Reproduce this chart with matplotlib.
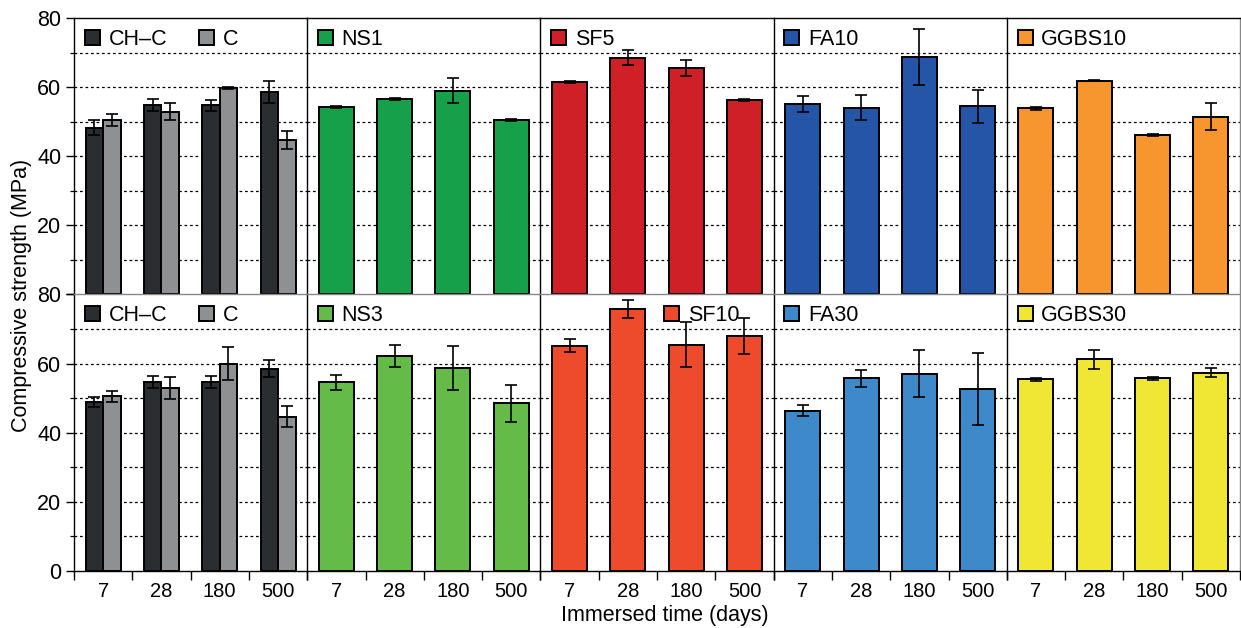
import matplotlib
matplotlib.use("Agg")
import matplotlib.pyplot as plt
from matplotlib.ticker import FixedLocator, NullFormatter
import numpy as np

plt.rcParams['font.family'] = ['Liberation Sans', 'DejaVu Sans']

days = ["7", "28", "180", "500"]

# control panels (both rows)
chc_top = [48.3, 54.8, 54.8, 58.6]
chc_top_err = [2.2, 1.7, 1.6, 3.3]
c_top = [50.5, 52.9, 59.8, 44.7]
c_top_err = [1.7, 2.5, 0.3, 2.6]
chc_bot = [48.9, 54.7, 54.7, 58.5]
chc_bot_err = [1.4, 1.7, 1.7, 2.5]
c_bot = [50.5, 52.9, 60.0, 44.7]
c_bot_err = [1.7, 3.2, 4.8, 2.9]

# top row mixes
ns1 = [54.2, 56.5, 59.0, 50.4]
ns1_err = [0.3, 0.3, 3.5, 0.3]
sf5 = [61.4, 68.5, 65.5, 56.3]
sf5_err = [0.3, 2.2, 2.4, 0.3]
fa10 = [55.2, 54.1, 68.7, 54.4]
fa10_err = [2.3, 3.6, 8.1, 4.7]
ggbs10 = [53.9, 61.9, 46.2, 51.4]
ggbs10_err = [0.4, 0.2, 0.3, 3.9]

# bottom row mixes
ns3 = [54.6, 62.2, 58.7, 48.5]
ns3_err = [2.2, 3.2, 6.4, 5.4]
sf10 = [65.2, 75.9, 65.5, 68.0]
sf10_err = [1.9, 2.65, 6.6, 5.1]
fa30 = [46.4, 55.7, 57.1, 52.7]
fa30_err = [1.5, 2.4, 6.7, 10.4]
ggbs30 = [55.5, 61.2, 55.7, 57.4]
ggbs30_err = [0.4, 2.65, 0.4, 1.35]

top_mixes = [("NS1", ns1, ns1_err, "#17a04a"),
             ("SF5", sf5, sf5_err, "#cf2027"),
             ("FA10", fa10, fa10_err, "#2455a6"),
             ("GGBS10", ggbs10, ggbs10_err, "#f7962f")]
bot_mixes = [("NS3", ns3, ns3_err, "#64bb47"),
             ("SF10", sf10, sf10_err, "#ee4a2c"),
             ("FA30", fa30, fa30_err, "#3e89c9"),
             ("GGBS30", ggbs30, ggbs30_err, "#efe733")]

COL_CHC = "#2b2e30"
COL_C = "#8e9091"

W, H = 1241, 628
fig = plt.figure(figsize=(W / 100, H / 100), dpi=100)
gs = fig.add_gridspec(2, 5, left=74 / W, right=1240 / W, top=1 - 18 / H,
                      bottom=1 - 571 / H, wspace=0, hspace=0)

FS = 15.5
ekw = dict(ecolor="black", elinewidth=1.2, capsize=4.5, capthick=1.2)
bar_kw = dict(edgecolor="black", linewidth=1.4, zorder=3)
x = np.arange(len(days)) + 0.5
leg_kw = dict(frameon=False, fontsize=FS, handlelength=0.7, handleheight=0.7,
              handletextpad=0.4, borderaxespad=0.3, borderpad=0.2)

def style_axis(ax, row, col):
    ax.set_xlim(0, 4)
    ax.set_ylim(0, 80)
    ax.set_axisbelow(True)
    for yv in range(10, 80, 10):
        ax.axhline(yv, color="black", linestyle=(0, (2.2, 2.2)), linewidth=0.9, zorder=1)
    for s in ax.spines.values():
        s.set_linewidth(1.0)
        s.set_color("black")
    ax.spines["right"].set_visible(col == 4)
    ax.spines["right"].set_color("#888888")
    if row == 0:
        ax.spines["bottom"].set_visible(False)
    else:
        ax.spines["top"].set_color("#888888")
    if col == 0:
        ax.yaxis.set_major_locator(FixedLocator([0, 20, 40, 60, 80]))
        ax.yaxis.set_minor_locator(FixedLocator([10, 30, 50, 70]))
        if row == 0:
            ax.set_yticklabels(["", "20", "40", "60", "80"])
        else:
            ax.set_yticklabels(["0", "20", "40", "60", "80"])
        ax.tick_params(axis="y", which="major", direction="out", length=6, width=1.0,
                       labelsize=15.5, pad=3)
        ax.tick_params(axis="y", which="minor", direction="out", length=3, width=0.9)
    else:
        ax.set_yticks([])
        ax.yaxis.set_minor_locator(FixedLocator([]))
    if row == 1:
        ax.xaxis.set_major_locator(FixedLocator([0, 1, 2, 3, 4]))
        ax.xaxis.set_major_formatter(NullFormatter())
        ax.xaxis.set_minor_locator(FixedLocator(list(x)))
        ax.set_xticklabels(days, minor=True)
        ax.tick_params(axis="x", which="major", direction="out", length=6.5, width=1.0)
        ax.tick_params(axis="x", which="minor", length=0, labelsize=14.5, pad=8)
    else:
        ax.set_xticks([])

axes = [[fig.add_subplot(gs[r, c]) for c in range(5)] for r in range(2)]

for r in range(2):
    ax = axes[r][0]
    chc, chce, cc, cce = ((chc_top, chc_top_err, c_top, c_top_err) if r == 0
                          else (chc_bot, chc_bot_err, c_bot, c_bot_err))
    ax.bar(x - 0.15, chc, 0.3, yerr=chce, color=COL_CHC, label="CH\u2013C",
           error_kw=ekw, **bar_kw)
    ax.bar(x + 0.15, cc, 0.3, yerr=cce, color=COL_C, label="C",
           error_kw=ekw, **bar_kw)
    style_axis(ax, r, 0)
    ax.legend(loc="upper left", ncol=2, columnspacing=1.5, **leg_kw)

for r, mixes in enumerate([top_mixes, bot_mixes]):
    for c, (name, vals, errs, colr) in enumerate(mixes, start=1):
        ax = axes[r][c]
        ax.bar(x, vals, 0.6, yerr=errs, color=colr, label=name,
               error_kw=ekw, **bar_kw)
        style_axis(ax, r, c)
        if name == "SF10":
            ax.legend(loc="upper left", bbox_to_anchor=(0.485, 1.0), **leg_kw)
        else:
            ax.legend(loc="upper left", **leg_kw)

fig.text(22 / W, 1 - 295 / H, "Compressive strength (MPa)", rotation=90,
         ha="center", va="center", fontsize=FS)
fig.text(665 / W, 1 - 616 / H, "Immersed time (days)", ha="center", va="center",
         fontsize=FS)

fig.savefig("out.png", dpi=100)
